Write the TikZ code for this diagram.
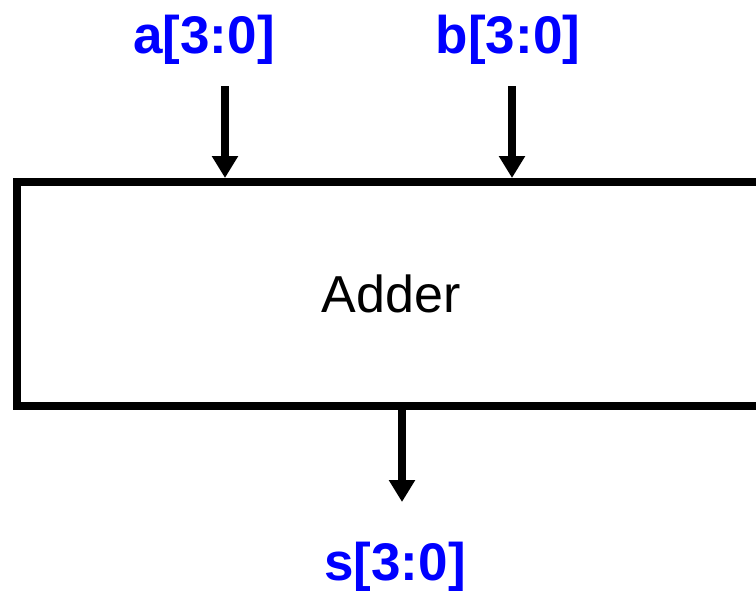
\documentclass[tikz,border=0pt]{standalone}
\usepackage{fontspec}
\setmainfont{Liberation Sans}
\usetikzlibrary{arrows.meta}
\definecolor{portblue}{RGB}{0,0,255}
\begin{document}
\begin{tikzpicture}[x=1pt,y=-1pt,
  block/.style={draw=black,line width=8pt,anchor=north west,minimum width=800pt,minimum height=224pt,inner sep=0pt},
  wire/.style={line width=8pt,-{Triangle[length=22pt,width=25pt]}},
  port/.style={text=portblue,font=\fontsize{53}{60}\selectfont\bfseries,anchor=base,inner sep=0pt},
  title/.style={font=\fontsize{52}{60}\selectfont,anchor=base,inner sep=0pt}]
\useasboundingbox (0,0) rectangle (756,590);
\clip (0,0) rectangle (756,590);
% adder block, running past the right edge
\node[block] (adder) at (13,178) {};
\node[title] (name) at (391,312) {Adder};
% input and output ports
\node[port] (a) at (204,53) {a[3:0]};
\node[port] (b) at (508,53) {b[3:0]};
\node[port] (s) at (395,580) {s[3:0]};
\coordinate (ain) at (225,86);
\coordinate (bin) at (512,86);
\coordinate (sout) at (402,502);
\draw[wire] (ain) -- (ain |- adder.north);
\draw[wire] (bin) -- (bin |- adder.north);
\draw[wire] (sout |- adder.south) -- (sout);
\end{tikzpicture}
\end{document}
